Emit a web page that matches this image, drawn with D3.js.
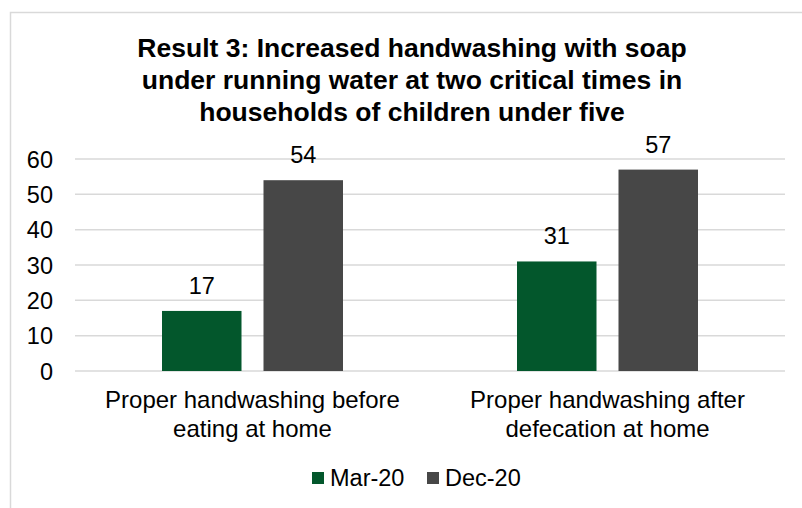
<!DOCTYPE html>
<html>
<head>
<meta charset="utf-8">
<script src="https://cdn.jsdelivr.net/npm/d3@7"></script>
<style>
  body { margin: 0; background: #fff; }
  svg { display: block; font-family: "Liberation Sans", Arial, sans-serif; }
</style>
</head>
<body>
<svg id="chart"></svg>
<script>
var titleLines = [
  "Result 3: Increased handwashing with soap",
  "under running water at two critical times in",
  "households of children under five"
];
var categories = [
  ["Proper handwashing before", "eating at home"],
  ["Proper handwashing after", "defecation at home"]
];
var seriesNames = ["Mar-20", "Dec-20"];
var seriesColors = ["#03572c", "#474747"];
var mar20 = [17, 31];
var dec20 = [54, 57];
var yTicks = [0, 10, 20, 30, 40, 50, 60];

var width = 802, height = 508;
var margin = { top: 159, right: 17, bottom: 137, left: 75 };

var svg = d3.select("#chart").attr("width", width).attr("height", height);

// outer chart border
svg.append("rect")
  .attr("x", 10.5).attr("y", 12.5)
  .attr("width", width).attr("height", height)
  .attr("fill", "none")
  .attr("stroke", "#d9d9d9")
  .attr("stroke-width", 1.5);

var boundedWidth = width - margin.left - margin.right;
var boundedHeight = height - margin.top - margin.bottom;

var xScale = d3.scaleBand()
  .domain(d3.range(categories.length))
  .range([0, boundedWidth]);

// two bars of ~79.5px with a 22px gap, centred in each category
var groupWidth = 181;
var xInner = d3.scaleBand()
  .domain(seriesNames)
  .range([0, groupWidth])
  .paddingInner(22 / 101.5);

var yScale = d3.scaleLinear()
  .domain([0, 60])
  .range([boundedHeight, 0]);

var bounds = svg.append("g")
  .attr("transform", "translate(" + margin.left + "," + margin.top + ")");

// gridlines
bounds.selectAll(".grid")
  .data(yTicks)
  .enter()
  .append("line")
  .attr("x1", 0).attr("x2", boundedWidth)
  .attr("y1", function (d) { return yScale(d); })
  .attr("y2", function (d) { return yScale(d); })
  .attr("stroke", "#d9d9d9")
  .attr("stroke-width", 1.5);

// y axis
var yAxis = d3.axisLeft(yScale).tickValues(yTicks).tickSize(0).tickPadding(22);
var yG = bounds.append("g").call(yAxis);
yG.select(".domain").remove();
yG.selectAll("text")
  .attr("font-size", "23.5px")
  .attr("font-family", "'Liberation Sans', Arial, sans-serif")
  .attr("fill", "#000")
  .attr("dy", "0.35em");

// bars
var rows = [];
for (var i = 0; i < categories.length; i++) {
  rows.push({ cat: i, series: seriesNames[0], value: mar20[i], color: seriesColors[0] });
  rows.push({ cat: i, series: seriesNames[1], value: dec20[i], color: seriesColors[1] });
}
var groupOffset = (xScale.bandwidth() - groupWidth) / 2;

bounds.selectAll(".bar")
  .data(rows)
  .enter()
  .append("rect")
  .attr("x", function (d) { return xScale(d.cat) + groupOffset + xInner(d.series); })
  .attr("y", function (d) { return yScale(d.value); })
  .attr("width", xInner.bandwidth())
  .attr("height", function (d) { return boundedHeight - yScale(d.value); })
  .attr("fill", function (d) { return d.color; });

// value labels
bounds.selectAll(".label")
  .data(rows)
  .enter()
  .append("text")
  .attr("x", function (d) { return xScale(d.cat) + groupOffset + xInner(d.series) + xInner.bandwidth() / 2; })
  .attr("y", function (d) { return yScale(d.value) - 17; })
  .attr("text-anchor", "middle")
  .attr("font-size", "23.5px")
  .text(function (d) { return d.value; });

// category labels
var catG = bounds.selectAll(".cat")
  .data(categories)
  .enter()
  .append("text")
  .attr("text-anchor", "middle")
  .attr("font-size", "24px")
  .attr("transform", function (d, i) {
    return "translate(" + (xScale(i) + xScale.bandwidth() / 2) + "," + (boundedHeight + 37) + ")";
  });
catG.selectAll("tspan")
  .data(function (d) { return d; })
  .enter()
  .append("tspan")
  .attr("x", 0)
  .attr("dy", function (d, i) { return i === 0 ? 0 : 29; })
  .text(function (d) { return d; });

// title
svg.append("text")
  .attr("text-anchor", "middle")
  .attr("font-size", "26.5px")
  .attr("font-weight", "bold")
  .selectAll("tspan")
  .data(titleLines)
  .enter()
  .append("tspan")
  .attr("x", 412)
  .attr("y", function (d, i) { return 57 + i * 32; })
  .text(function (d) { return d; });

// legend
var legendItems = [
  { name: seriesNames[0], color: seriesColors[0], x: 312 },
  { name: seriesNames[1], color: seriesColors[1], x: 427 }
];
var lg = svg.selectAll(".legend")
  .data(legendItems)
  .enter()
  .append("g")
  .attr("transform", function (d) { return "translate(" + d.x + ",478)"; });
lg.append("rect")
  .attr("x", 0).attr("y", -6)
  .attr("width", 12).attr("height", 12)
  .attr("fill", function (d) { return d.color; });
lg.append("text")
  .attr("x", 18)
  .attr("dy", "0.35em")
  .attr("font-size", "23.5px")
  .text(function (d) { return d.name; });
</script>
</body>
</html>
